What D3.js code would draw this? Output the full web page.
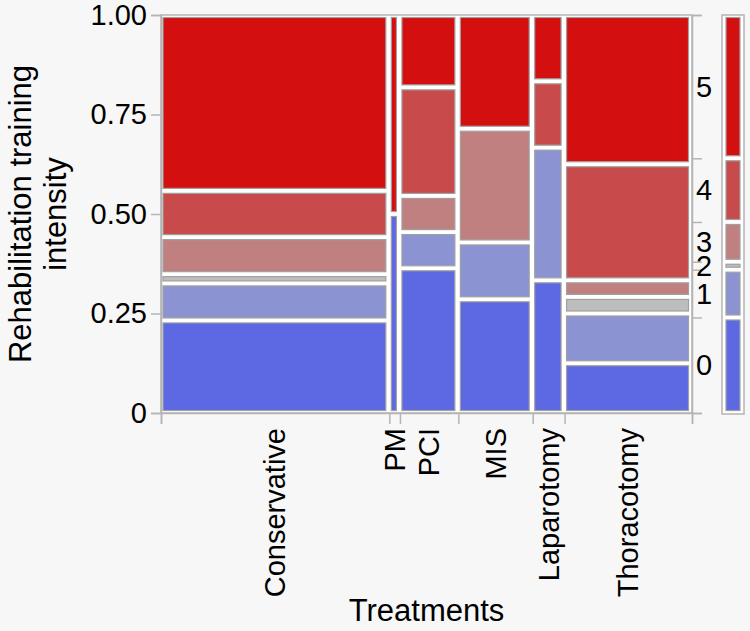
<!DOCTYPE html>
<html>
<head>
<meta charset="utf-8">
<script src="https://cdn.jsdelivr.net/npm/d3@7"></script>
<style>
  html, body { margin: 0; padding: 0; background: #f7f7f7; }
  svg { display: block; font-family: 'Liberation Sans', Arial, sans-serif; }
</style>
</head>
<body>
<div id="chart"></div>
<script>
/* Data: patient counts per treatment, one array per training-intensity level */
const treatments = ['Conservative', 'PM', 'PCI', 'MIS', 'Laparotomy', 'Thoracotomy'];
const levels = ['0', '1', '2', '3', '4', '5'];
const level0 = [10, 1, 4, 4, 2, 3];
const level1 = [4, 0, 1, 2, 2, 3];
const level2 = [1, 0, 0, 0, 0, 1];
const level3 = [4, 0, 1, 4, 0, 1];
const level4 = [5, 0, 3, 0, 1, 7];
const level5 = [19, 1, 2, 4, 1, 9];
const yTicks = [0, 0.25, 0.5, 0.75, 1];
const yTickLabels = ['0', '0.25', '0.50', '0.75', '1.00'];

const levelColors = ['#5d69e2', '#8c93d2', '#bdbdbd', '#c08080', '#c84a4a', '#d40f0f'];

const WIDTH = 750;
const HEIGHT = 631;
const plot = { left: 161, right: 692, top: 15, bottom: 413 };
const FONT = 29;
const TITLE_FONT = 31;

const countsByLevel = [level0, level1, level2, level3, level4, level5];

drawMosaic();

function drawMosaic () {
  const svg = d3.select('#chart')
    .append('svg')
    .attr('width', WIDTH)
    .attr('height', HEIGHT);

  const colTotals = treatments.map((_, i) => d3.sum(countsByLevel, arr => arr[i]));
  const total = d3.sum(colTotals);
  const colStarts = d3.cumsum([0, ...colTotals]);

  const xScale = d3.scaleLinear().domain([0, total]).range([plot.left, plot.right]);
  const yScale = d3.scaleLinear().domain([0, 1]).range([plot.bottom, plot.top]);

  // plot frame
  svg.append('rect')
    .attr('x', plot.left)
    .attr('y', plot.top)
    .attr('width', plot.right - plot.left)
    .attr('height', plot.bottom - plot.top)
    .attr('fill', '#ffffff')
    .attr('stroke', '#b4b4b4')
    .attr('stroke-width', 1.5);

  // cells
  const cells = [];
  treatments.forEach((t, i) => {
    let cum = 0;
    levels.forEach((lv, j) => {
      const n = countsByLevel[j][i];
      if (n === 0) return;
      const p0 = cum / colTotals[i];
      cum += n;
      const p1 = cum / colTotals[i];
      cells.push({ t, lv, j, x0: colStarts[i], x1: colStarts[i + 1], p0, p1 });
    });
  });

  svg.append('g')
    .selectAll('rect')
    .data(cells)
    .join('rect')
    .attr('x', d => xScale(d.x0) + 2)
    .attr('width', d => xScale(d.x1) - xScale(d.x0) - 5.5)
    .attr('y', d => yScale(d.p1) + 2.5)
    .attr('height', d => yScale(d.p0) - yScale(d.p1) - 5)
    .attr('fill', d => levelColors[d.j])
    .attr('stroke', '#a0a0a0')
    .attr('stroke-width', 1.2);

  // left axis
  const yAxis = d3.axisLeft(yScale)
    .tickValues(yTicks)
    .tickFormat((d, i) => yTickLabels[i])
    .tickSize(10)
    .tickPadding(4);
  const gy = svg.append('g')
    .attr('transform', `translate(${plot.left},0)`)
    .call(yAxis);
  styleAxis(gy);

  // bottom axis (ticks at category boundaries)
  const xAxis = d3.axisBottom(xScale)
    .tickValues(colStarts)
    .tickFormat('')
    .tickSize(11);
  const gx = svg.append('g')
    .attr('transform', `translate(0,${plot.bottom})`)
    .call(xAxis);
  styleAxis(gx);

  svg.append('g')
    .selectAll('text')
    .data(treatments)
    .join('text')
    .attr('transform', (d, i) => `translate(${xScale((colStarts[i] + colStarts[i + 1]) / 2)},428) rotate(-90)`)
    .attr('text-anchor', 'end')
    .attr('dy', '0.35em')
    .style('font-size', `${FONT}px`)
    .attr('fill', '#000')
    .text(d => d);

  // right axis: marginal distribution of levels
  const levelTotals = countsByLevel.map(arr => d3.sum(arr));
  const levelCum = d3.cumsum([0, ...levelTotals]).map(v => v / total);

  const rAxis = d3.axisRight(yScale)
    .tickValues(levelCum)
    .tickFormat('')
    .tickSize(10);
  const gr = svg.append('g')
    .attr('transform', `translate(${plot.right},0)`)
    .call(rAxis);
  styleAxis(gr);

  svg.append('g')
    .selectAll('text')
    .data(levels)
    .join('text')
    .attr('x', plot.right + 4)
    .attr('y', (d, j) => yScale((levelCum[j] + levelCum[j + 1]) / 2))
    .attr('dy', '0.35em')
    .style('font-size', `${FONT}px`)
    .attr('fill', '#000')
    .text(d => d);

  // marginal bar
  const bar = { x0: 722, x1: 744 };
  svg.append('rect')
    .attr('x', bar.x0)
    .attr('y', plot.top)
    .attr('width', bar.x1 - bar.x0)
    .attr('height', plot.bottom - plot.top + 1)
    .attr('fill', '#ffffff')
    .attr('stroke', '#b4b4b4')
    .attr('stroke-width', 1.5);

  svg.append('g')
    .selectAll('rect')
    .data(levels)
    .join('rect')
    .attr('x', bar.x0 + 4)
    .attr('width', bar.x1 - bar.x0 - 8)
    .attr('y', (d, j) => yScale(levelCum[j + 1]) + 2.5)
    .attr('height', (d, j) => Math.max(0, yScale(levelCum[j]) - yScale(levelCum[j + 1]) - 5))
    .attr('fill', (d, j) => levelColors[j])
    .attr('stroke', '#a0a0a0')
    .attr('stroke-width', 1.2);

  // axis titles
  svg.append('text')
    .attr('x', (plot.left + plot.right) / 2)
    .attr('y', 621)
    .attr('text-anchor', 'middle')
    .style('font-size', `${TITLE_FONT}px`)
    .text('Treatments');

  const yTitle = svg.append('text')
    .attr('transform', `translate(0,${(plot.top + plot.bottom) / 2}) rotate(-90)`)
    .attr('text-anchor', 'middle')
    .style('font-size', `${TITLE_FONT}px`);
  yTitle.append('tspan').attr('x', 0).attr('y', 31).text('Rehabilitation training');
  yTitle.append('tspan').attr('x', 0).attr('y', 66).text('intensity');
}

function styleAxis (g) {
  g.select('.domain').attr('stroke', '#b4b4b4').attr('stroke-width', 1.5);
  g.selectAll('.tick line').attr('stroke', '#b4b4b4').attr('stroke-width', 1.5);
  g.selectAll('.tick text')
    .attr('fill', '#000')
    .style('font-size', `${FONT}px`)
    .style('font-family', "'Liberation Sans', Arial, sans-serif");
}
</script>
</body>
</html>
